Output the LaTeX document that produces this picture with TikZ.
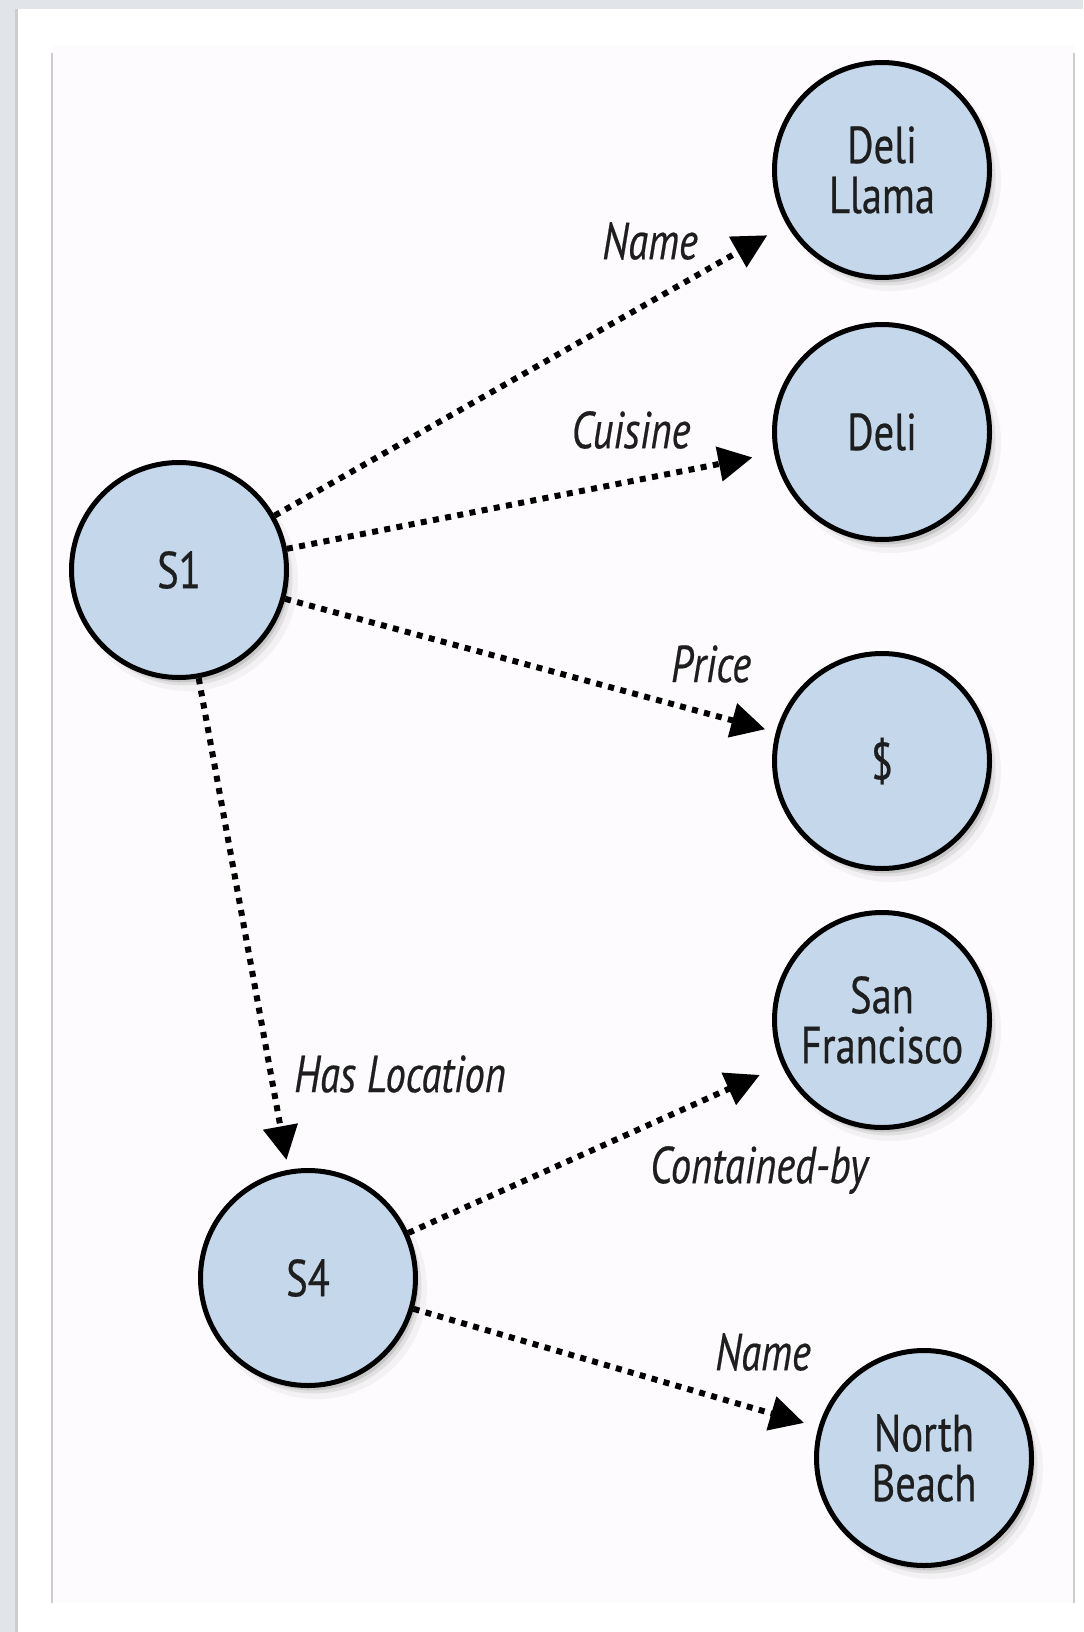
\documentclass[tikz,border=0pt]{standalone}
\usepackage{fontspec}
\setmainfont{PT Sans}[FakeStretch=0.78, FakeBold=0.4]
\usetikzlibrary{positioning,arrows.meta,shadows}
\usepackage{xcolor}
\definecolor{nodeblue}{RGB}{197,216,235}
\definecolor{pagegray}{RGB}{225,228,233}
\definecolor{panelpink}{RGB}{253,251,253}
\definecolor{edgegray}{RGB}{205,205,208}
\definecolor{textgray}{RGB}{30,30,30}

\begin{document}
\begin{tikzpicture}[x=0.5pt, y=-0.5pt,
            entity/.style={circle, draw, line width=2.5pt, fill=nodeblue, minimum size=107.5pt, inner sep=0pt,
                align=center, font=\fontsize{26}{25}\selectfont, text=textgray,
                drop shadow={shadow xshift=4pt, shadow yshift=-5pt, shadow scale=1.03, opacity=0.08},
                drop shadow={shadow xshift=3pt, shadow yshift=-4pt, opacity=0.15},
                drop shadow={shadow xshift=2pt, shadow yshift=-3pt, shadow scale=0.99, opacity=0.25}},
            rel/.style={-{Triangle[length=17pt,width=17pt]}, line width=3pt, dash pattern=on 3pt off 3.2pt},
            lbl/.style={font=\fontsize{26}{26}\selectfont\itshape, text=textgray, inner sep=0pt}
        ]
        \useasboundingbox (0,0) rectangle (1083,1632);

        % page and panel
        \fill[pagegray] (0,0) rectangle (1083,1632);
        \fill[white] (17,9) rectangle (1083,1632);
        \draw[edgegray, line width=1.5pt] (16,9) -- (16,1632);
        \fill[panelpink] (52,45) rectangle (1074,1603);
        \draw[edgegray, line width=0.6pt] (52,53) -- (52,1603);
        \draw[edgegray, line width=0.6pt] (1074,53) -- (1074,1603);

        % Subjects
        \node[entity] (s1) at (179,570) {S1};
        \node[entity] (s4) at (308,1278) {S4};

        % Values
        \node[entity] (delillama) at (882,170) {Deli\\Llama};
        \node[entity] (deli) at (882,432) {Deli};
        \node[entity] (price) at (882,761) {\$};
        \node[entity] (sf) at (882,1020) {San\\Francisco};
        \node[entity] (northbeach) at (924,1458) {North\\Beach};

        % Relations of S1
        \draw[rel, shorten >=11pt] (s1) -- (delillama);
        \draw[rel, shorten >=11pt] (s1) -- (deli);
        \draw[rel, shorten >=5.5pt] (s1) -- (price);
        \draw[rel, shorten >=5pt] (s1) -- (s4);

        % Relations of S4
        \draw[rel, shorten >=12pt] (s4) -- (sf);
        \draw[rel, shorten >=7.5pt] (s4) -- (northbeach);

        % Labels
        \node[lbl] (lname) at (650,241) {Name};
        \node[lbl] (lcuisine) at (631,430) {Cuisine};
        \node[lbl] (lprice) at (711,664) {Price};
        \node[lbl] (lhasloc) at (400,1074) {Has Location};
        \node[lbl] (lcontained) at (759,1170) {Contained-by};
        \node[lbl] (lname2) at (763,1352) {Name};

        \end{tikzpicture}
\end{document}
